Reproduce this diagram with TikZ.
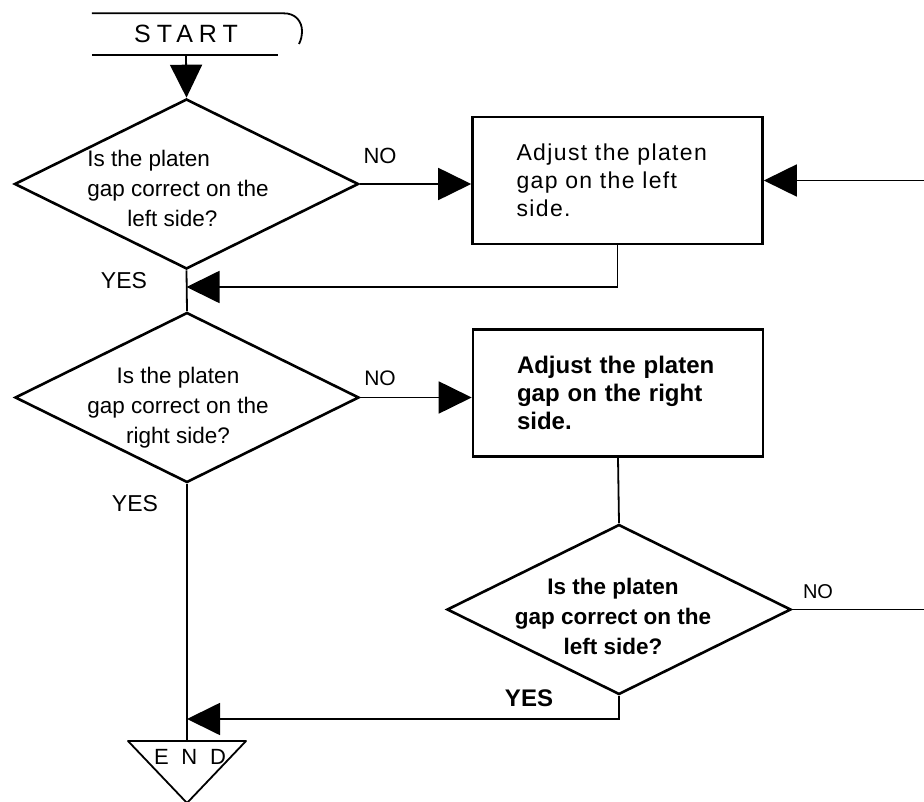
\documentclass[tikz,border=0pt]{standalone}
\usepackage{fontspec}
\setmainfont{Liberation Sans}
\newfontfamily\trackfont[LetterSpace=24]{Liberation Sans}
\newfontfamily\widetrackfont[LetterSpace=58]{Liberation Sans}
\newfontfamily\loosefont[LetterSpace=6]{Liberation Sans}
\usetikzlibrary{positioning,arrows.meta,shapes.geometric}

\begin{document}
\begin{tikzpicture}[x=1pt, y=-1pt,
  decision/.style={diamond, draw, line width=2.6pt, minimum width=344pt, minimum height=170pt, inner sep=0pt},
  qtext/.style={align=center, font=\fontsize{22.5}{30}\selectfont},
  action/.style={rectangle, draw, line width=2.6pt, minimum width=290pt, minimum height=127pt, text width=202pt, align=left, inner sep=0pt},
  flow/.style={line width=1.8pt, -{Triangle[length=33pt,width=32pt]}},
  link/.style={line width=1.8pt},
  tag/.style={font=\fontsize{21}{24}\selectfont}]
\useasboundingbox (0,0) rectangle (924,802);
% terminal at the top
\node[font=\fontsize{25}{25}\selectfont\trackfont, minimum width=188pt, minimum height=41pt, inner sep=0pt] (start) at (186,34) {START};
\draw[link] (start.south west) -- ([xshift=-2pt]start.south east);
\draw[link] (start.north west) -- ([xshift=3pt]start.north east)
  .. controls (296,13) and (302,22) .. (302,31)
  .. controls (302,36) and (301,40) .. (299,44);
% first check
\node[decision] (q1) at (186.5,184) {};
\node[qtext, align=left] (q1text) at (178,188) {Is the platen\\gap correct on the\\\hspace*{40pt}left side?};
\draw[flow] (start.south) -- (q1.north);
% left-side adjustment
\node[action, font=\fontsize{23}{28}\selectfont\loosefont] (box1) at (617.5,180.5) {Adjust the platen\\gap on the left\\side.};
\draw[flow] (q1.east) -- (q1.east -| box1.west);
\node[tag, font=\fontsize{22}{24}\selectfont] (no1) at (380,156) {NO};
\coordinate (loopin) at (924,180.5);
\draw[flow] (loopin) -- (box1.east);
% back onto the main line
\coordinate (j1) at (186.5,287);
\draw[flow] (box1.south) |- (j1);
\node[tag, font=\fontsize{23}{24}\selectfont] (yes1) at (124,281) {YES};
% second check
\node[decision] (q2) at (187,397.5) {};
\node[qtext] (q2text) at (178,408) {Is the platen\\gap correct on the\\right side?};
\draw[link] (q1.south) -- (q2.north);
\node[action, font=\fontsize{24}{28}\selectfont\bfseries] (box2) at (618,393) {Adjust the platen\\gap on the right\\side.};
\draw[flow] (q2.east) -- (q2.east -| box2.west);
\node[tag] (no2) at (380,378) {NO};
\node[tag, font=\fontsize{23}{24}\selectfont] (yes2) at (135,504) {YES};
% recheck of the left side
\node[decision] (q3) at (619,609.5) {};
\node[qtext, font=\fontsize{22.5}{30}\selectfont\bfseries] (q3text) at (613,616) {Is the platen\\gap correct on the\\left side?};
\draw[link] (box2.south) -- (q3.north);
\coordinate (loopout) at (924,609.5);
\draw[link] (q3.east) -- (loopout);
\node[tag, font=\fontsize{20}{24}\selectfont] (no3) at (818,592) {NO};
\coordinate (j2) at (187,719);
\draw[flow] (q3.south) |- (j2);
\node[tag, font=\fontsize{24}{24}\selectfont\bfseries] (yes3) at (529,698) {YES};
% terminal at the bottom
\coordinate (endtop) at (187,741);
\draw[link] (q2.south) -- (endtop);
\draw[link, line join=round] (128,741) -- (246,741) -- (187,803) -- cycle;
\node[font=\fontsize{22}{22}\selectfont\widetrackfont, inner sep=0pt] (finish) at (190,757) {END};
\end{tikzpicture}
\end{document}
